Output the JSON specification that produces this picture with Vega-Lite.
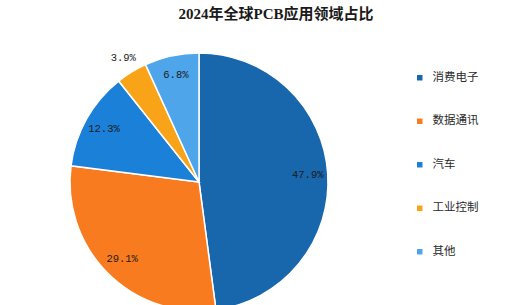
{
  "$schema": "https://vega.github.io/schema/vega-lite/v6.json",
  "width": 398,
  "height": 304,
  "autosize": {"type": "none"},
  "padding": {"top": 30, "left": 0, "right": 108, "bottom": 0},
  "background": "white",
  "title": {
    "text": "2024年全球PCB应用领域占比",
    "anchor": "middle",
    "frame": "group",
    "dx": 77,
    "offset": 8,
    "font": "Liberation Serif, Noto Sans CJK SC",
    "fontSize": 15,
    "fontWeight": "bold",
    "color": "#1a1a1a"
  },
  "data": {
    "values": [
      {"category": "消费电子", "value": 47.9, "label": "47.9%", "idx": 1},
      {"category": "数据通讯", "value": 29.1, "label": "29.1%", "idx": 2},
      {"category": "汽车", "value": 12.3, "label": "12.3%", "idx": 3},
      {"category": "工业控制", "value": 3.9, "label": "3.9%", "idx": 4},
      {"category": "其他", "value": 6.8, "label": "6.8%", "idx": 5}
    ]
  },
  "encoding": {
    "theta": {"field": "value", "type": "quantitative", "stack": true},
    "order": {"field": "idx", "type": "quantitative"}
  },
  "layer": [
    {
      "mark": {"type": "arc", "outerRadius": 129, "stroke": "white", "strokeWidth": 1.5},
      "encoding": {
        "color": {
          "field": "category",
          "type": "nominal",
          "sort": ["消费电子", "数据通讯", "汽车", "工业控制", "其他"],
          "scale": {
            "domain": ["消费电子", "数据通讯", "汽车", "工业控制", "其他"],
            "range": ["#1866ac", "#f97b20", "#1a80d8", "#f9a418", "#4ea5ea"]
          },
          "legend": {
            "title": null,
            "orient": "none",
            "legendX": 414,
            "legendY": 42,
            "symbolType": "square",
            "symbolSize": 30,
            "symbolStrokeWidth": 0,
            "labelFont": "Noto Sans CJK SC",
            "labelFontSize": 11.5,
            "labelColor": "#2a2a2a",
            "rowPadding": 30.5,
            "labelOffset": 7
          }
        }
      }
    },
    {
      "mark": {"type": "text", "font": "Liberation Mono", "fontSize": 10.5, "color": "#1a1a1a"},
      "encoding": {
        "radius": {"value": 109},
        "text": {"field": "label"},
        "opacity": {"condition": {"test": "datum.category === '工业控制'", "value": 0}, "value": 1}
      }
    },
    {
      "mark": {"type": "text", "font": "Liberation Mono", "fontSize": 10.5, "color": "#1a1a1a"},
      "encoding": {
        "radius": {"value": 145},
        "text": {"field": "label"},
        "opacity": {"condition": {"test": "datum.category === '工业控制'", "value": 1}, "value": 0}
      }
    }
  ]
}
